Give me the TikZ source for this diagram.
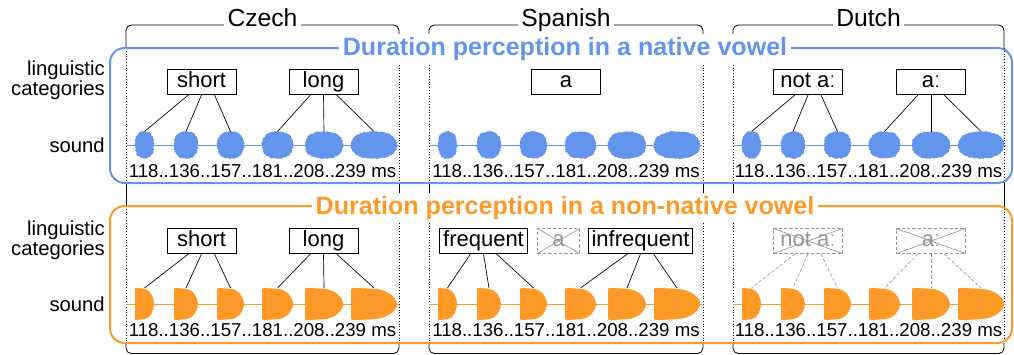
\documentclass[tikz,border=0pt]{standalone}
\usepackage{fontspec}
\setmainfont{Liberation Sans}
\usepackage{tikz}
\usetikzlibrary{calc,positioning,decorations.pathmorphing}

\definecolor{nativeblue}{RGB}{100,149,237}
\definecolor{foreignorange}{RGB}{255,153,40}
\definecolor{ghostgray}{RGB}{150,150,150}

\newcommand{\fLang}{\fontsize{18.5}{20}\selectfont}
\newcommand{\fTitle}{\bfseries\fontsize{18.8}{20}\selectfont}
\newcommand{\fRow}{\fontsize{15.2}{12.8}\selectfont}
\newcommand{\fCat}{\fontsize{16.5}{18}\selectfont}
\newcommand{\fMs}{\fontsize{14}{16}\selectfont}

% blob shapes: half width, half height, colour
\newcommand{\roundblob}[3]{%
  \fill[#3, blobnoise] ({-#1},0) .. controls ({-#1},{-0.65*#2}) and ({-0.65*#1},{-#2}) .. (0,{-#2})
    .. controls ({0.65*#1},{-#2}) and ({#1},{-0.65*#2}) .. ({#1},0)
    .. controls ({#1},{0.65*#2}) and ({0.65*#1},{#2}) .. (0,{#2})
    .. controls ({-0.65*#1},{#2}) and ({-#1},{0.65*#2}) .. cycle;}
\newcommand{\sharpblob}[3]{%
  \fill[#3] ({-#1},{-0.8*#2}) .. controls ({-#1},{-#2}) .. ({-0.8*#1},{-#2})
    -- (0,{-0.95*#2}) .. controls ({0.6*#1},{-0.9*#2}) and ({#1},{-0.4*#2}) .. ({#1},0)
    .. controls ({#1},{0.4*#2}) and ({0.6*#1},{0.9*#2}) .. (0,{0.95*#2})
    -- ({-0.8*#1},{#2}) .. controls ({-#1},{#2}) .. ({-#1},{0.8*#2}) -- cycle;}

% one row of six vowels: prefix, left x, centre y, colour, shape, half height
\newcommand{\soundrow}[6]{%
  \draw[#4, line width=0.75pt] (#2,#3) -- ++(273,0);
  \foreach \i/\dx/\hw in {1/18.5/9.5,2/60/12,3/104.5/13.5,4/151.5/15.5,5/198/19,6/248/23}{
    \begin{scope}[shift={(#2+\dx,#3)}]
      #5{\hw}{#6}{#4}
    \end{scope}
    \coordinate (#1\i) at (#2+\dx,#3-#6);
  }
}

\tikzset{
  blobnoise/.style={decorate, decoration={random steps, segment length=0.8pt, amplitude=0.45pt}},
  cat/.style={draw, line width=0.6pt, font=\fCat, inner xsep=2.5pt, inner ysep=0pt,
    minimum width=51.75pt, minimum height=18.75pt, text height=12pt, text depth=3.5pt},
  ghost/.style={cat, draw=ghostgray, text=ghostgray, dash pattern=on 2.5pt off 1.5pt,
    path picture={\draw[ghostgray, solid, line width=0.5pt]
      (path picture bounding box.north west) -- (path picture bounding box.south east)
      (path picture bounding box.south west) -- (path picture bounding box.north east);}},
  link/.style={line width=0.5pt},
  ghostlink/.style={ghostgray, line width=0.5pt, dash pattern=on 2.5pt off 1.5pt},
  lang/.style={font=\fLang, fill=white, inner xsep=2.5pt, anchor=base},
  title/.style={font=\fTitle, fill=white, inner xsep=3pt, inner ysep=2pt, anchor=base},
  frame/.style={line width=1.5pt, rounded corners=11pt},
  rowlbl/.style={font=\fRow, align=right, anchor=east, inner sep=0pt},
  ms/.style={font=\fMs, anchor=base, inner sep=0pt},
  dots/.style={line width=0.6pt, dash pattern=on 0.7pt off 1.4pt}
}

\pgfmathsetseed{7}

\begin{document}
\begin{tikzpicture}[x=0.75pt,y=-0.75pt]
\useasboundingbox (0,0) rectangle (1014,354);

% language brackets
\foreach \l/\r in {126/399,429/703,733/1004}{
  \draw[line width=0.6pt, rounded corners=4pt] (\l,48) -- (\l,25) -- (\r,25) -- (\r,48);
  \draw[dots] (\l,48) -- (\l,183) (\r,48) -- (\r,183) (\l,206) -- (\l,343) (\r,206) -- (\r,343);
  \draw[line width=0.6pt] (\l,183) -- (\l,206) (\r,183) -- (\r,206);
  \draw[line width=0.6pt, rounded corners=4pt] (\l,343) -- (\l,353.5) -- (\r,353.5) -- (\r,343);
}
\node[lang] (czech) at (262.5,26) {Czech};
\node[lang] (spanish) at (566,26) {Spanish};
\node[lang] (dutch) at (868.5,26) {Dutch};

% the two conditions
\draw[frame, nativeblue] (110,48) rectangle (1012,183);
\draw[frame, foreignorange] (110,206) rectangle (1012,343);
\node[title, text=nativeblue] (nativeTitle) at (565,55) {Duration perception in a native vowel};
\node[title, text=foreignorange] (foreignTitle) at (565,214) {Duration perception in a non-native vowel};

\node[rowlbl] (catsA) at (105,80.5) {linguistic\\categories};
\node[rowlbl] (soundA) at (105,145) {sound};
\node[rowlbl] (catsB) at (105,240) {linguistic\\categories};
\node[rowlbl] (soundB) at (105,304) {sound};

% sounds
\soundrow{czA}{126}{145}{nativeblue}{\roundblob}{13.5}
\soundrow{esA}{429}{145}{nativeblue}{\roundblob}{13.5}
\soundrow{nlA}{733}{145}{nativeblue}{\roundblob}{13.5}
\soundrow{czB}{126}{304}{foreignorange}{\sharpblob}{16}
\soundrow{esB}{429}{304}{foreignorange}{\sharpblob}{16}
\soundrow{nlB}{733}{304}{foreignorange}{\sharpblob}{16}

\node[ms] (czMsA) at (262.5,177) {118..136..157..181..208..239 ms};
\node[ms] (esMsA) at (566,177) {118..136..157..181..208..239 ms};
\node[ms] (nlMsA) at (868.5,177) {118..136..157..181..208..239 ms};
\node[ms] (czMsB) at (262.5,336) {118..136..157..181..208..239 ms};
\node[ms] (esMsB) at (566,336) {118..136..157..181..208..239 ms};
\node[ms] (nlMsB) at (868.5,336) {118..136..157..181..208..239 ms};

% categories, native
\node[cat] (czShortA) at (201.5,82) {short};
\node[cat] (czLongA) at (323.5,82) {long};
\node[cat] (esVowelA) at (566,82) {a};
\node[cat] (nlNotA) at (808,82) {not aː};
\node[cat] (nlLongA) at (931,82) {aː};

% categories, non-native
\node[cat] (czShortB) at (201.5,241) {short};
\node[cat] (czLongB) at (323.5,241) {long};
\node[cat] (esFreq) at (483.5,241) {frequent};
\node[ghost, minimum width=31.5pt] (esVowelB) at (558.5,241) {a};
\node[cat] (esInfreq) at (640.5,241) {infrequent};
\node[ghost] (nlNotB) at (808,241) {not aː};
\node[ghost] (nlLongB) at (931,241) {aː};

\foreach \k/\dx in {1/-13,2/0,3/13}{
  \draw[link] ($(czShortA.south)+(\dx,0)$) -- (czA\k);
  \draw[link] ($(nlNotA.south)+(\dx,0)$) -- (nlA\k);
  \draw[link] ($(czShortB.south)+(\dx,0)$) -- (czB\k);
  \draw[link] ($(esFreq.south)+(\dx,0)$) -- (esB\k);
  \draw[ghostlink] ($(nlNotB.south)+(\dx,0)$) -- (nlB\k);
}
\foreach \k/\dx in {4/-13,5/0,6/13}{
  \draw[link] ($(czLongA.south)+(\dx,0)$) -- (czA\k);
  \draw[link] ($(nlLongA.south)+(\dx,0)$) -- (nlA\k);
  \draw[link] ($(czLongB.south)+(\dx,0)$) -- (czB\k);
  \draw[link] ($(esInfreq.south)+(\dx,0)$) -- (esB\k);
  \draw[ghostlink] ($(nlLongB.south)+(\dx,0)$) -- (nlB\k);
}

\end{tikzpicture}
\end{document}
